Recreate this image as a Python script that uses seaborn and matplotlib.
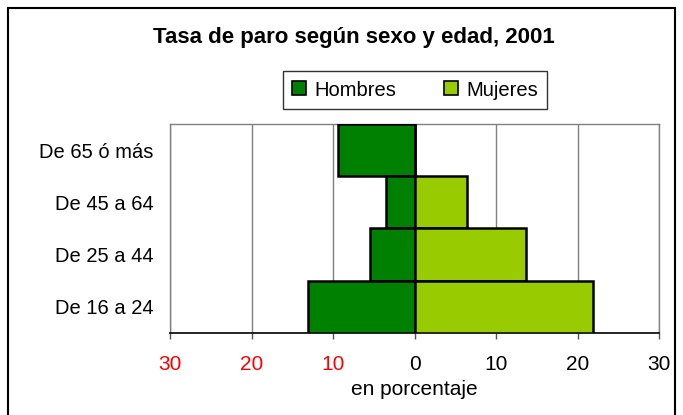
import matplotlib
matplotlib.use("Agg")
import matplotlib.pyplot as plt
import seaborn as sns
import pandas as pd
from matplotlib.patches import Rectangle

categories = ["De 65 ó más", "De 45 a 64", "De 25 a 44", "De 16 a 24"]
hombres = [9.4, 3.5, 5.45, 13.1]
mujeres = [0.0, 6.5, 13.65, 21.95]
ticks = [-30, -20, -10, 0, 10, 20, 30]
tick_labels = ["30", "20", "10", "0", "10", "20", "30"]

sns.set_theme(style="white")
plt.rcParams['font.family'] = ['Liberation Sans', 'DejaVu Sans']
plt.rcParams['text.color'] = 'black'
plt.rcParams['xtick.color'] = 'black'
plt.rcParams['ytick.color'] = 'black'
plt.rcParams['axes.labelcolor'] = 'black'

df = pd.DataFrame({
    "edad": categories * 2,
    "sexo": ["Hombres"] * 4 + ["Mujeres"] * 4,
    "valor": [-v for v in hombres] + mujeres,
})

fig = plt.figure(figsize=(6.83, 4.15), dpi=100)
ax = fig.add_axes([170/683, 1 - 333/415, (659-170)/683, (333-124)/415])

sns.barplot(data=df, x="valor", y="edad", hue="sexo", order=categories,
            hue_order=["Hombres", "Mujeres"], palette=["#008000", "#99CC00"],
            saturation=1, dodge=False, width=1.0, orient="h",
            edgecolor="black", linewidth=1.8, ax=ax, legend=False, zorder=3)

ax.set_xlim(-30, 30)
ax.set_xticks(ticks)
ax.set_xticklabels(tick_labels, fontsize=15)
for t, v in zip(ax.get_xticklabels(), ticks):
    t.set_color("red" if v < 0 else "black")
ax.tick_params(axis="x", direction="out", length=4, width=1, color="#555555", pad=12, bottom=True)
ax.tick_params(axis="y", length=0, labelsize=14.5, pad=12)
ax.set_ylabel("")
ax.set_xlabel("en porcentaje", fontsize=15, labelpad=4)
ax.grid(axis="x", color="#808080", linewidth=1, zorder=0)
ax.set_axisbelow(True)
for s in ["top", "right", "left"]:
    ax.spines[s].set_color("#808080")
    ax.spines[s].set_linewidth(1)
ax.spines["bottom"].set_color("black")
ax.spines["bottom"].set_linewidth(1.2)

fig.text(354/683, 1 - 37/415, "Tasa de paro según sexo y edad, 2001",
         ha="center", va="center", fontsize=16, fontweight="bold")

handles = [Rectangle((0, 0), 1, 1, facecolor="#008000", edgecolor="black", linewidth=1.2),
           Rectangle((0, 0), 1, 1, facecolor="#99CC00", edgecolor="black", linewidth=1.2)]
leg = fig.legend(handles, ["Hombres", "Mujeres"], loc="center",
                 bbox_to_anchor=(415/683, 1 - 90/415), ncol=2, fontsize=14.5,
                 frameon=True, fancybox=False, edgecolor="black",
                 handlelength=0.7, handleheight=0.7, handletextpad=0.4,
                 columnspacing=2.4, borderpad=0.45, borderaxespad=0)
leg.get_frame().set_linewidth(1)

fig.patches.append(Rectangle((8/683, -0.1), (675-8)/683, 1 - 8/415 + 0.1,
                             transform=fig.transFigure, fill=False,
                             edgecolor="black", linewidth=1.5))

fig.savefig("out.png", dpi=100)
